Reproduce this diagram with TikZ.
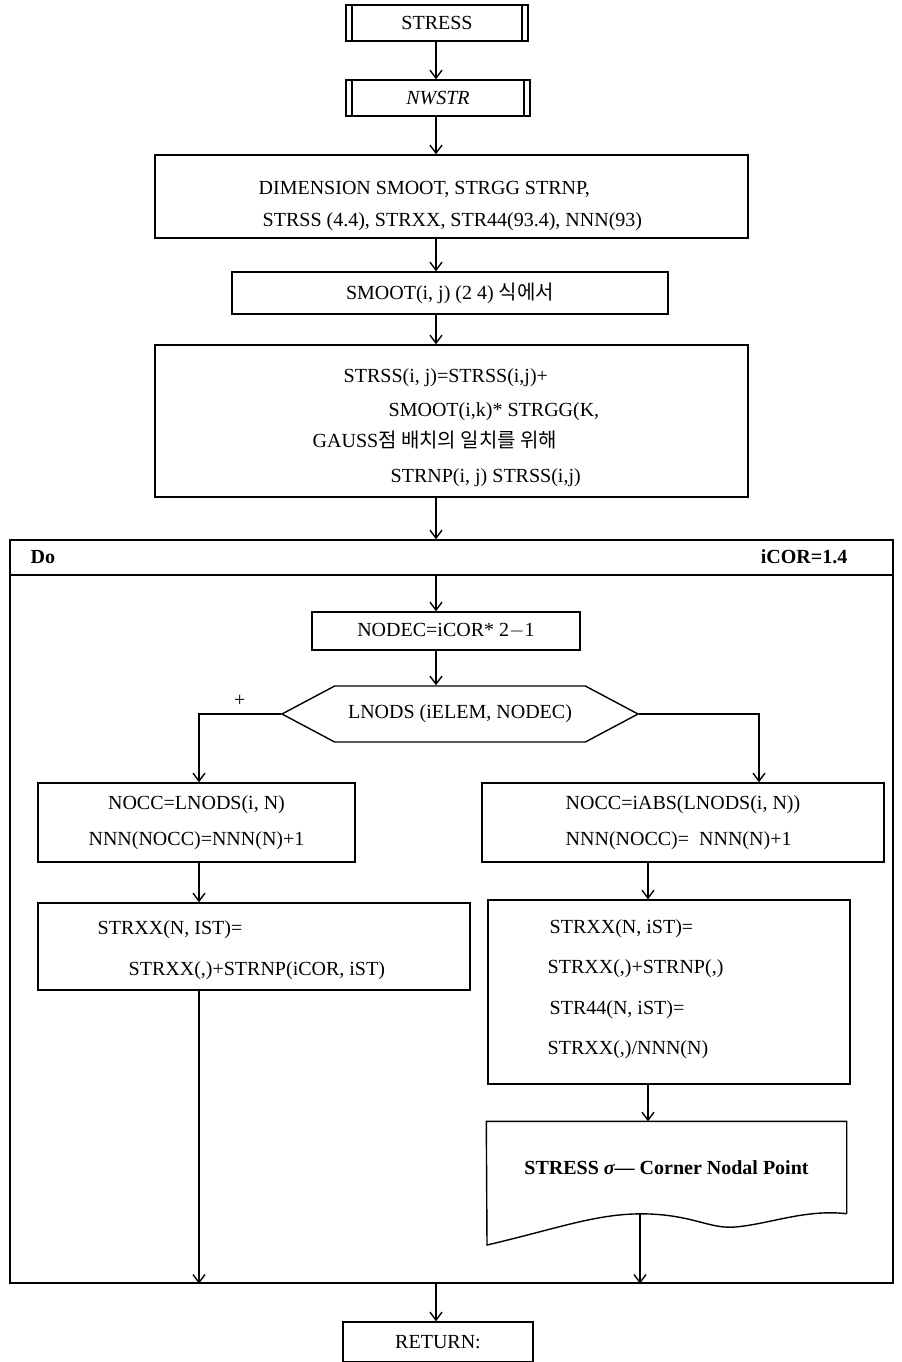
\documentclass[tikz,border=0pt]{standalone}
\usepackage{fontspec}
\setmainfont{Liberation Serif}
\newfontfamily\kr{Noto Sans CJK KR}
\usetikzlibrary{positioning, arrows.meta, shapes.symbols}

\begin{document}
\begin{tikzpicture}[
    x=0.5pt, y=-0.5pt,
    >={Straight Barb[length=4pt, width=6pt]},
    line width=0.7pt,
    font=\fontsize{10}{12}\selectfont,
    box/.style={draw, rectangle, inner sep=0pt},
    subr/.style={box, path picture={
        \draw ([xshift=3pt]path picture bounding box.north west) -- ([xshift=3pt]path picture bounding box.south west);
        \draw ([xshift=-3pt]path picture bounding box.north east) -- ([xshift=-3pt]path picture bounding box.south east);}},
    txt/.style={anchor=base west, inner sep=0pt}
]
    \useasboundingbox (0,0) rectangle (901,1362);

    % Columns for the connectors
    \coordinate (mcol) at (436,0);
    \coordinate (lcol) at (199,0);
    \coordinate (rcol) at (648,0);
    \coordinate (rbr) at (759,0);

    % Upper part
    \node[subr, minimum width=91pt, minimum height=18pt] (stress) at (437,23) {STRESS};
    \node[subr, minimum width=92pt, minimum height=18pt] (nwstr) at (438,98) {\itshape NWSTR};

    \node[box, minimum width=296.5pt, minimum height=41.5pt] (dim) at (451.5,196.5) {};
    \node[txt] (dim1) at (258,194) {DIMENSION SMOOT, STRGG STRNP,};
    \node[txt] (dim2) at (262,226) {STRSS (4.4), STRXX, STR44(93.4), NNN(93)};

    \node[box, minimum width=218pt, minimum height=21pt] (smoot) at (450,293) {SMOOT(i, j) (2 4) {\kr 식에서}};

    \node[box, minimum width=296.5pt, minimum height=76pt] (strss) at (451.5,421) {};
    \node[txt] (s1) at (343,382) {STRSS(i, j)=STRSS(i,j)+};
    \node[txt] (s2) at (388,416) {SMOOT(i,k)* STRGG(K,};
    \node[txt] (s3) at (312,447) {GAUSS{\kr 점 배치의 일치를 위해}};
    \node[txt] (s4) at (390,482) {STRNP(i, j) STRSS(i,j)};

    % Loop
    \node[box, minimum width=441.5pt, minimum height=17.5pt] (dobar) at (451.5,557.5) {};
    \node[txt] (do) at (30,563) {\bfseries Do};
    \node[anchor=base east, inner sep=0pt] (icor) at (848,563) {\bfseries iCOR=1.4};
    \node[box, minimum width=441.5pt, minimum height=354pt] (loop) at (451.5,929) {};

    \node[box, minimum width=134pt, minimum height=19pt] (nodec) at (446,631) {NODEC=iCOR* 2$-$1};
    \node[draw, signal, signal to=west and east, signal pointer angle=56,
          minimum width=178pt, minimum height=28pt, inner sep=0pt] (dec) at (460,714) {LNODS (iELEM, NODEC)};

    % Left branch
    \node[box, minimum width=158.5pt, minimum height=39.5pt, align=center] (nocc1) at (196.5,822.5)
        {NOCC=LNODS(i, N)\\[6pt]NNN(NOCC)=NNN(N)+1};
    \node[box, minimum width=216pt, minimum height=43.5pt] (strxx1) at (254,946.5) {};
    \node[txt] (l1) at (97,934) {STRXX(N, IST)=};
    \node[txt] (l2) at (128,975) {STRXX(,)+STRNP(iCOR, iST)};

    % Right branch
    \node[box, minimum width=201pt, minimum height=39.5pt, align=left] (nocc2) at (683,822.5)
        {NOCC=iABS(LNODS(i, N))\\[6pt]NNN(NOCC)= \ NNN(N)+1};
    \node[box, minimum width=181pt, minimum height=92pt] (strxx2) at (669,992) {};
    \node[txt] (r1) at (549,933) {STRXX(N, iST)=};
    \node[txt] (r2) at (547,973) {STRXX(,)+STRNP(,)};
    \node[txt] (r3) at (549,1014) {STR44(N, iST)=};
    \node[txt] (r4) at (547,1054) {STRXX(,)/NNN(N)};

    \node[minimum width=179.5pt, minimum height=45.5pt, inner sep=0pt] (doc) at (666.5,1167.5)
        {\bfseries STRESS {\itshape σ}— Corner Nodal Point};
    \draw (doc.south east) -- (doc.north east) -- (doc.north west) -- (487,1245)
        .. controls (560,1228) and (600,1212) .. (650,1214)
        .. controls (695,1216) and (710,1229) .. (735,1227)
        .. controls (770,1224) and (805,1209) .. (doc.south east);
    \coordinate (wv) at (640,1214);

    \node[box, minimum width=95pt, minimum height=20pt] (ret) at (438,1342) {RETURN:};

    % Connectors
    \draw[->] (mcol |- stress.south) -- (mcol |- nwstr.north);
    \draw[->] (mcol |- nwstr.south) -- (mcol |- dim.north);
    \draw[->] (mcol |- dim.south) -- (mcol |- smoot.north);
    \draw[->] (mcol |- smoot.south) -- (mcol |- strss.north);
    \draw[->] (mcol |- strss.south) -- (mcol |- dobar.north);
    \draw[->] (mcol |- dobar.south) -- (mcol |- nodec.north);
    \draw[->] (mcol |- nodec.south) -- (mcol |- dec.north);
    \draw[->] (dec.west) -| node[pos=0.25, above] {+} (lcol |- nocc1.north);
    \draw[->] (dec.east) -| (rbr |- nocc2.north);
    \draw[->] (lcol |- nocc1.south) -- (lcol |- strxx1.north);
    \draw[->] (lcol |- strxx1.south) -- (lcol |- loop.south);
    \draw[->] (rcol |- nocc2.south) -- (rcol |- strxx2.north);
    \draw[->] (rcol |- strxx2.south) -- (rcol |- doc.north);
    \draw[->] (wv) -- (wv |- loop.south);
    \draw[->] (mcol |- loop.south) -- (mcol |- ret.north);
\end{tikzpicture}
\end{document}
